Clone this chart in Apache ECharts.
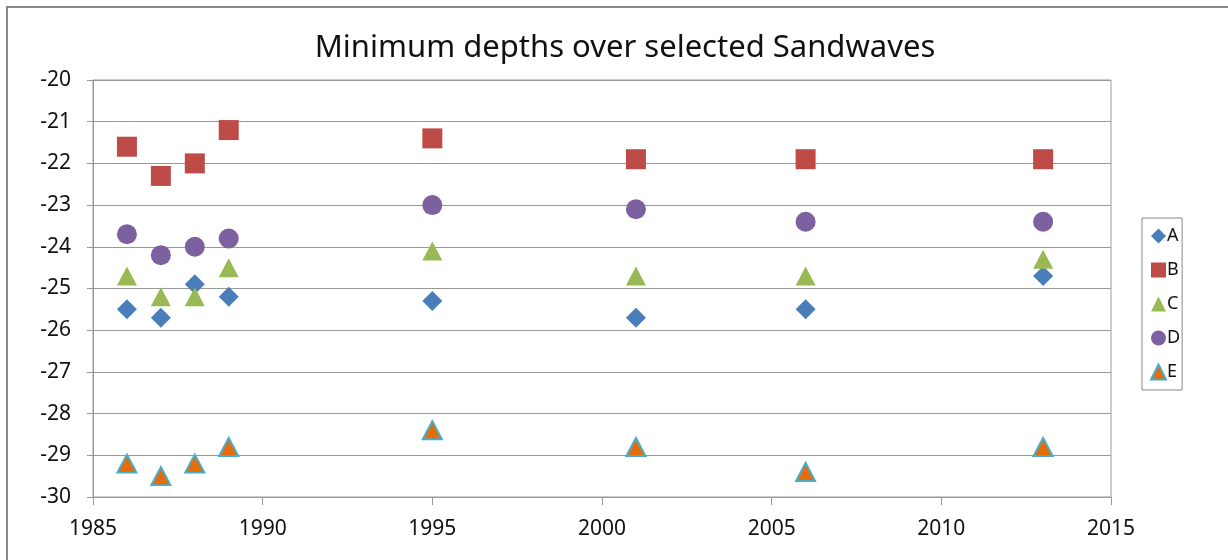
<!DOCTYPE html>
<html><head><meta charset="utf-8">
<script src="https://cdn.jsdelivr.net/npm/echarts@6/dist/echarts.min.js"></script>
<style>html,body{margin:0;padding:0;background:#fff}#c{width:1228px;height:560px}</style>
</head><body><div id="c"></div>
<script>
const years = [1986, 1987, 1988, 1989, 1995, 2001, 2006, 2013];
const seriesNames = ['A', 'B', 'C', 'D', 'E'];
const valuesA = [-25.5, -25.7, -24.9, -25.2, -25.3, -25.7, -25.5, -24.7];
const valuesB = [-21.6, -22.3, -22.0, -21.2, -21.4, -21.9, -21.9, -21.9];
const valuesC = [-24.7, -25.2, -25.2, -24.5, -24.1, -24.7, -24.7, -24.3];
const valuesD = [-23.7, -24.2, -24.0, -23.8, -23.0, -23.1, -23.4, -23.4];
const valuesE = [-29.2, -29.5, -29.2, -28.8, -28.4, -28.8, -29.4, -28.8];
const titleText = 'Minimum depths over selected Sandwaves';

const pair = v => years.map((y, i) => [y, v[i]]);
const font = 'Noto Sans';
const chart = echarts.init(document.getElementById('c'));
const mk = (name, data, symbol, size, color, border) => ({
  name, type: 'scatter', data: pair(data), symbol, symbolSize: size,
  itemStyle: { color, opacity: 1, borderColor: border || color, borderWidth: border ? 2 : 0 },
  emphasis: { disabled: true }
});
chart.setOption({
  animation: false,
  backgroundColor: '#fff',
  graphic: [{ type: 'rect', shape: { x: 7, y: 7, width: 1240, height: 570 }, style: { fill: 'none', stroke: '#888', lineWidth: 2 }, z: -1 }],
  title: { text: titleText, left: 620, textAlign: 'center', top: 28,
    textStyle: { fontFamily: font, fontSize: 31, fontWeight: 'normal', color: '#111' } },
  grid: { left: 93, right: 117, top: 80, bottom: 63, show: true, borderColor: '#999', borderWidth: 1 },
  legend: {
    orient: 'vertical', left: 1142, top: 218, data: seriesNames,
    borderColor: '#888', borderWidth: 1, padding: [9, 2, 9, 8],
    itemWidth: 15, itemHeight: 15, itemGap: 16,
    textStyle: { fontFamily: font, fontSize: 18, color: '#111', padding: [0, 0, 0, -4] }
  },
  xAxis: {
    type: 'value', min: 1985, max: 2015, interval: 5,
    axisLine: { show: true, onZero: false, lineStyle: { color: '#999' } },
    axisTick: { show: true, length: 8, lineStyle: { color: '#999' } },
    splitLine: { show: false },
    axisLabel: { fontFamily: font, fontSize: 21, color: '#111', margin: 22, formatter: v => String(v) }
  },
  yAxis: {
    type: 'value', min: -30, max: -20, interval: 1,
    axisLine: { show: true, lineStyle: { color: '#999' } },
    axisTick: { show: true, length: 6, lineStyle: { color: '#999' } },
    splitLine: { show: true, lineStyle: { color: '#999', width: 1 } },
    axisLabel: { fontFamily: font, fontSize: 21, color: '#111', margin: 22, formatter: v => String(v) }
  },
  series: [
    mk('A', valuesA, 'diamond', [20, 20], '#4A7EBB'),
    mk('B', valuesB, 'rect', [20, 20], '#BE4B48'),
    mk('C', valuesC, 'triangle', [20, 19], '#98B954'),
    mk('D', valuesD, 'circle', [20, 20], '#7D60A0'),
    mk('E', valuesE, 'triangle', [19, 18], '#E46C0A', '#4BACC6')
  ]
});
</script></body></html>
